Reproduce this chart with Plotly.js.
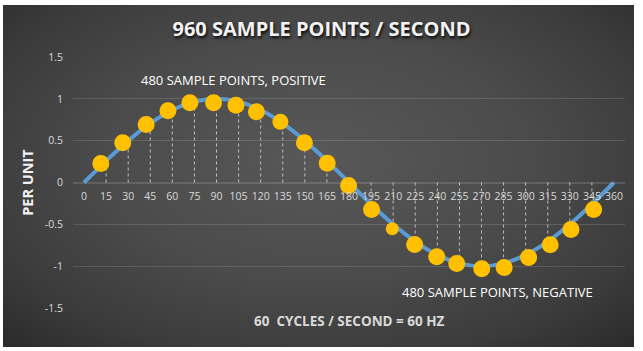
<!DOCTYPE html>
<html>
<head>
<meta charset="utf-8">
<script src="https://cdn.plot.ly/plotly-3.0.1.min.js"></script>
<style>
  html, body { margin: 0; padding: 0; background: #ffffff; }
  #bg {
    position: absolute; left: 3px; top: 5px; width: 631px; height: 342px;
    background: radial-gradient(ellipse 75% 80% at 50% 45%, #585858 0%, #4b4b4b 45%, #3b3b3b 75%, #272727 100%);
  }
  #chart { position: absolute; left: 0; top: 0; width: 643px; height: 351px; }
</style>
</head>
<body>
<div id="bg"></div>
<div id="chart"></div>
<script>
// ---- data ----
const categories = [0, 15, 30, 45, 60, 75, 90, 105, 120, 135, 150, 165, 180,
                    195, 210, 225, 240, 255, 270, 285, 300, 315, 330, 345, 360];
const waveValues = [0, 0.259, 0.5, 0.707, 0.866, 0.966, 1, 0.966, 0.866, 0.707, 0.5, 0.259, 0,
                    -0.259, -0.5, -0.707, -0.866, -0.966, -1, -0.966, -0.866, -0.707, -0.5, -0.259, 0];
const sampleAngles = [11.4, 26.3, 42.2, 57.0, 71.9, 88.0, 103.2, 117.1, 133.4, 149.7, 165.2, 179.7,
                      195.3, 209.4, 224.6, 239.6, 253.2, 270.2, 285.4, 302.0, 316.7, 330.8, 346.2];
const sampleValues = [0.227, 0.474, 0.693, 0.857, 0.952, 0.952, 0.924, 0.845, 0.725, 0.474, 0.231, -0.036,
                      -0.323, -0.553, -0.741, -0.888, -0.968, -1.031, -1.016, -0.896, -0.744, -0.562, -0.323];
const yTickVals = [-1.5, -1, -0.5, 0, 0.5, 1, 1.5];
const yTickLabels = ['-1.5', '-1', '-0.5', '0', '0.5', '1', '1.5'];
const chartTitle = '960 SAMPLE POINTS / SECOND';
const yTitle = 'PER UNIT';
const positiveLabel = '480 SAMPLE POINTS, POSITIVE';
const negativeLabel = '480 SAMPLE POINTS, NEGATIVE';
const footerLabel = '60  CYCLES / SECOND = 60 HZ';

// ---- drop lines built from the wave values ----
const dropX = [], dropY = [];
categories.forEach((c, i) => {
  if (waveValues[i] !== 0) { dropX.push(c, c, null); dropY.push(0, waveValues[i], null); }
});

const traces = [
  { x: dropX, y: dropY, type: 'scatter', mode: 'lines', hoverinfo: 'skip', showlegend: false,
    line: { color: 'rgba(210,210,210,0.85)', width: 1, dash: '3px,3px' } },
  { x: categories, y: waveValues, type: 'scatter', mode: 'lines', showlegend: false,
    line: { color: '#5B9BD5', width: 4, shape: 'spline', smoothing: 1 } },
  { x: sampleAngles, y: sampleValues, type: 'scatter', mode: 'markers', showlegend: false,
    marker: { color: '#FFC000', opacity: 1,
              size: [17, 17, 17, 17, 17, 17, 17, 17, 16, 17, 17, 17,
                     17, 13, 17, 17, 17, 17, 17, 17, 17, 17, 17], line: { width: 0 } } }
];

const tickFont = { family: 'Open Sans, sans-serif', size: 10.5, color: '#d9d9d9' };
const gridCol = 'rgba(255,255,255,0.13)';

const layout = {
  width: 643, height: 351,
  paper_bgcolor: 'rgba(0,0,0,0)', plot_bgcolor: 'rgba(0,0,0,0)',
  margin: { l: 73, r: 18, t: 57, b: 43 },
  showlegend: false,
  title: {
    text: '<b>' + chartTitle + '</b>',
    x: 0.5, xref: 'container', xanchor: 'center',
    y: 1 - 29 / 351, yref: 'container', yanchor: 'middle',
    font: { family: 'Open Sans, sans-serif', size: 20, color: '#f2f2f2', shadow: '1px 2px 3px rgba(0,0,0,0.9)' }
  },
  xaxis: {
    range: [-7.5, 367.5], anchor: 'free', position: 0.5,
    tickvals: categories, ticktext: categories.map(String),
    showgrid: false, zeroline: false, showline: true, linecolor: gridCol, linewidth: 1,
    ticks: '', tickfont: tickFont, ticklabelstandoff: 4, fixedrange: true
  },
  yaxis: {
    range: [-1.5, 1.5], tickvals: yTickVals, ticktext: yTickLabels,
    showgrid: true, gridcolor: gridCol, gridwidth: 1,
    zeroline: true, zerolinecolor: gridCol, zerolinewidth: 1,
    showline: false, ticks: '', tickfont: tickFont, ticklabelstandoff: 9,
    title: { text: '<b>' + yTitle + '</b>', standoff: 7,
             font: { family: 'Open Sans, sans-serif', size: 14.5, color: '#f2f2f2' } },
    automargin: false, fixedrange: true
  },
  annotations: [
    { text: positiveLabel, x: 101.4, y: 1.23, xref: 'x', yref: 'y', showarrow: false,
      font: { family: 'Open Sans, sans-serif', size: 13, color: '#ffffff' } },
    { text: negativeLabel, x: 281.1, y: -1.314, xref: 'x', yref: 'y', showarrow: false,
      font: { family: 'Open Sans, sans-serif', size: 13, color: '#ffffff' } },
    { text: '<b>' + footerLabel + '</b>', x: 0.5, y: -0.05, xref: 'paper', yref: 'paper',
      xanchor: 'center', yanchor: 'middle', showarrow: false,
      font: { family: 'Open Sans, sans-serif', size: 13.5, color: '#d9d9d9' } }
  ]
};

Plotly.newPlot('chart', traces, layout, { staticPlot: true, displayModeBar: false });
</script>
</body>
</html>
